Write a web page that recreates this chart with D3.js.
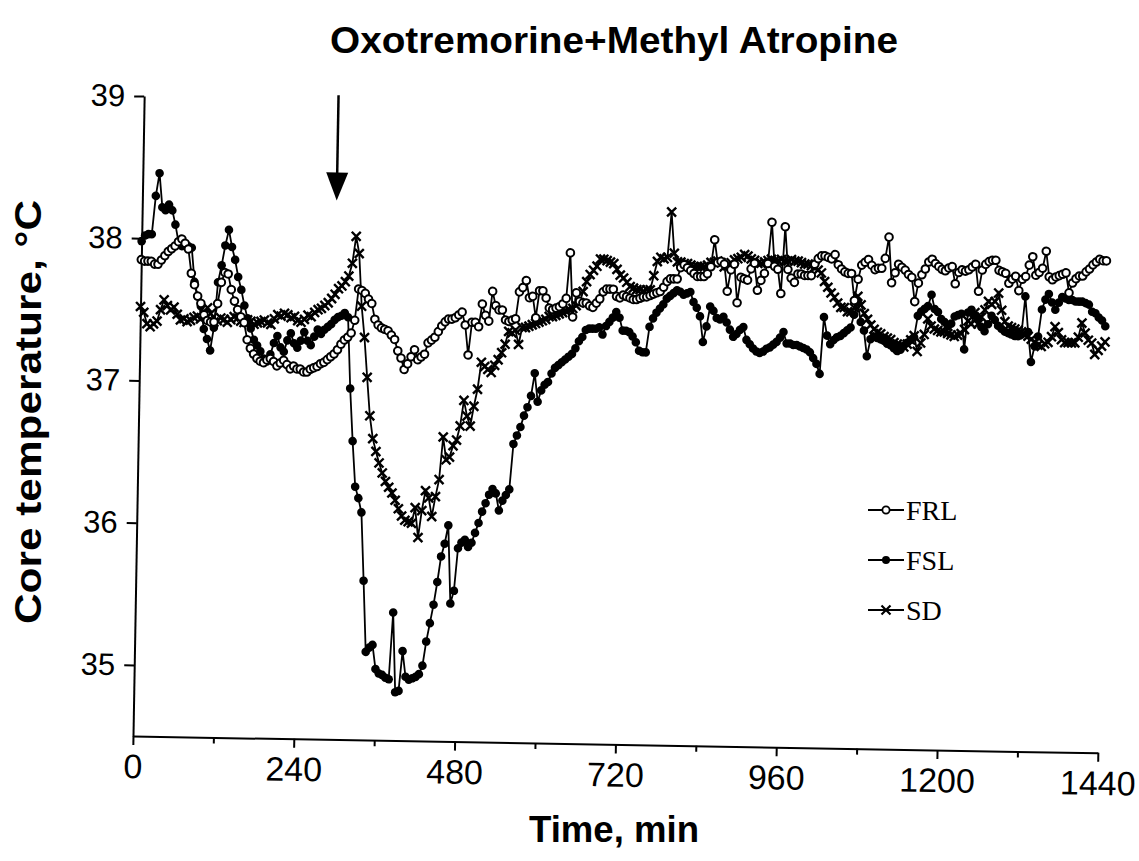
<!DOCTYPE html>
<html>
<head>
<meta charset="utf-8">
<script src="https://cdn.jsdelivr.net/npm/d3@7/dist/d3.min.js"></script>
<style>
  body { margin: 0; background: #fff; }
  .axis text { font-family: "Liberation Sans", Arial, sans-serif; fill: #000; }
  .axis--x text { font-size: 34px; }
  .axis--y text { font-size: 31px; }
  .axis path, .axis line { stroke: #000; stroke-width: 2; }
  .series { fill: none; stroke: #000; stroke-width: 1.8; }
  .title { font-family: "Liberation Sans", Arial, sans-serif; font-weight: bold; }
  .legend text { font-family: "Liberation Serif", "Times New Roman", serif; font-size: 28px; }
</style>
</head>
<body>
<svg id="chart" width="1139" height="861"></svg>
<script>
// readings every 5 min from 0 to 1440 min, one row per hour
var stepMin = 5;

var frl = [
  37.85, 37.84, 37.84, 37.84, 37.82, 37.82, 37.85, 37.88, 37.91, 37.93, 37.95, 37.98,
  38.00, 37.97, 37.93, 37.76, 37.68, 37.60, 37.55, 37.47, 37.43, 37.42, 37.42, 37.55,
  37.70, 37.77, 37.76, 37.65, 37.57, 37.51, 37.46, 37.42, 37.30, 37.24, 37.20, 37.17,
  37.15, 37.14, 37.16, 37.17, 37.15, 37.12, 37.14, 37.16, 37.13, 37.10, 37.12, 37.10,
  37.10, 37.08, 37.08, 37.10, 37.11, 37.12, 37.14, 37.15, 37.17, 37.19, 37.21, 37.24,
  37.28, 37.31, 37.33, 37.36, 37.45, 37.67, 37.66, 37.64, 37.60, 37.57, 37.46, 37.42,
  37.40, 37.39, 37.38, 37.35, 37.32, 37.24, 37.19, 37.11, 37.15, 37.20, 37.25, 37.18,
  37.20, 37.22, 37.30, 37.32, 37.34, 37.38, 37.42, 37.45, 37.47, 37.47, 37.48, 37.50,
  37.52, 37.43, 37.22, 37.45, 37.45, 37.42, 37.58, 37.50, 37.46, 37.67, 37.57, 37.54,
  37.54, 37.47, 37.46, 37.47, 37.48, 37.67, 37.70, 37.75, 37.63, 37.64, 37.49, 37.68,
  37.68, 37.63, 37.56, 37.55, 37.56, 37.57, 37.59, 37.63, 37.95, 37.50, 37.67, 37.61,
  37.60, 37.60, 37.58, 37.57, 37.60, 37.63, 37.68, 37.70, 37.70, 37.70, 37.65, 37.64,
  37.66, 37.65, 37.64, 37.63, 37.63, 37.64, 37.65, 37.65, 37.66, 37.67, 37.68, 37.69,
  37.72, 37.76, 37.78, 37.78, 37.78, 37.86, 37.88, 37.86, 37.84, 37.82, 37.80, 37.80,
  37.80, 37.82, 37.87, 38.06, 37.90, 37.91, 37.89, 37.70, 37.85, 37.89, 37.62, 37.80,
  37.79, 37.78, 37.86, 37.90, 37.71, 37.78, 37.83, 37.90, 38.19, 37.88, 37.86, 37.69,
  38.16, 37.86, 37.80, 37.77, 37.83, 37.83, 37.82, 37.82, 37.82, 37.90, 37.94, 37.96,
  37.96, 37.95, 37.94, 37.97, 37.90, 37.87, 37.85, 37.84, 37.84, 37.65, 37.80, 37.90,
  37.92, 37.94, 37.90, 37.87, 37.88, 37.88, 37.95, 38.10, 37.78, 37.85, 37.91, 37.89,
  37.87, 37.84, 37.82, 37.65, 37.78, 37.84, 37.88, 37.93, 37.95, 37.92, 37.90, 37.88,
  37.87, 37.89, 37.90, 37.78, 37.86, 37.88, 37.87, 37.88, 37.90, 37.92, 37.73, 37.88,
  37.92, 37.94, 37.95, 37.95, 37.88, 37.87, 37.86, 37.79, 37.82, 37.84, 37.74, 37.82,
  37.84, 37.92, 37.98, 37.85, 37.87, 37.90, 38.02, 37.84, 37.82, 37.84, 37.85, 37.86,
  37.87, 37.73, 37.80, 37.83, 37.85, 37.85, 37.88, 37.90, 37.93, 37.95, 37.97, 37.96,
  37.96
];

var fsl = [
  37.98, 38.02, 38.03, 38.03, 38.30, 38.46, 38.22, 38.20, 38.24, 38.20, 38.10, 37.98,
  37.95, 37.96, 37.95, 37.94, 37.70, 37.60, 37.53, 37.37, 37.30, 37.22, 37.38, 37.70,
  37.82, 37.96, 38.07, 37.95, 37.86, 37.74, 37.65, 37.54, 37.45, 37.38, 37.30, 37.26,
  37.22, 37.17, 37.15, 37.20, 37.28, 37.33, 37.25, 37.22, 37.30, 37.35, 37.28, 37.25,
  37.30, 37.36, 37.30, 37.27, 37.33, 37.38, 37.35, 37.38, 37.40, 37.42, 37.45, 37.47,
  37.48, 37.50, 37.47, 36.97, 36.60, 36.28, 36.20, 36.10, 35.62, 35.12, 35.15, 35.17,
  35.00, 34.97, 34.96, 34.94, 34.93, 35.40, 34.84, 34.85, 35.13, 34.95, 34.93, 34.94,
  34.95, 34.97, 35.03, 35.20, 35.33, 35.46, 35.62, 35.80, 35.89, 36.02, 35.47, 35.56,
  35.86, 35.90, 35.92, 35.87, 35.90, 35.97, 36.04, 36.12, 36.18, 36.24, 36.28, 36.25,
  36.13, 36.20, 36.24, 36.28, 36.60, 36.66, 36.72, 36.80, 36.86, 36.94, 37.10, 36.90,
  36.98, 37.02, 37.04, 37.10, 37.14, 37.16, 37.18, 37.20, 37.22, 37.24, 37.28, 37.33,
  37.36, 37.41, 37.42, 37.42, 37.42, 37.43, 37.38, 37.44, 37.47, 37.50, 37.54, 37.50,
  37.41, 37.41, 37.40, 37.37, 37.33, 37.27, 37.26, 37.26, 37.44, 37.50, 37.54, 37.57,
  37.60, 37.64, 37.66, 37.68, 37.70, 37.69, 37.67, 37.68, 37.69, 37.62, 37.58, 37.52,
  37.34, 37.45, 37.59, 37.56, 37.51, 37.50, 37.52, 37.48, 37.43, 37.38, 37.40, 37.43,
  37.45, 37.36, 37.33, 37.30, 37.28, 37.27, 37.28, 37.30, 37.31, 37.33, 37.35, 37.38,
  37.42, 37.34, 37.34, 37.33, 37.33, 37.32, 37.31, 37.30, 37.28, 37.24, 37.20, 37.13,
  37.53, 37.40, 37.34, 37.37, 37.39, 37.40, 37.42, 37.44, 37.46, 37.55, 37.64, 37.50,
  37.44, 37.26, 37.38, 37.40, 37.39, 37.38, 37.37, 37.35, 37.34, 37.32, 37.30, 37.31,
  37.34, 37.36, 37.38, 37.40, 37.55, 37.58, 37.60, 37.62, 37.70, 37.60, 37.58, 37.53,
  37.51, 37.48, 37.50, 37.55, 37.56, 37.57, 37.32, 37.58, 37.60, 37.56, 37.53, 37.48,
  37.45, 37.50, 37.56, 37.53, 37.49, 37.47, 37.45, 37.44, 37.43, 37.42, 37.42, 37.43,
  37.70, 37.45, 37.24, 37.35, 37.42, 37.61, 37.68, 37.72, 37.66, 37.61, 37.66, 37.70,
  37.69, 37.68, 37.68, 37.67, 37.67, 37.67, 37.66, 37.65, 37.60, 37.59, 37.56, 37.54,
  37.50
];

var sd = [
  37.52, 37.48, 37.40, 37.38, 37.40, 37.42, 37.50, 37.57, 37.53, 37.50, 37.52, 37.47,
  37.43, 37.44, 37.42, 37.43, 37.45, 37.46, 37.44, 37.47, 37.52, 37.48, 37.42, 37.43,
  37.45, 37.44, 37.42, 37.44, 37.46, 37.45, 37.43, 37.42, 37.44, 37.43, 37.41, 37.42,
  37.43, 37.44, 37.42, 37.41, 37.45, 37.48, 37.47, 37.49, 37.48, 37.46, 37.47, 37.44,
  37.43, 37.45, 37.48, 37.47, 37.50, 37.52, 37.53, 37.55, 37.57, 37.60, 37.63, 37.67,
  37.69, 37.72, 37.76, 37.85, 38.04, 37.92, 37.55, 37.33, 37.05, 36.78, 36.62, 36.53,
  36.45, 36.38, 36.32, 36.28, 36.24, 36.19, 36.13, 36.08, 36.05, 36.04, 36.03, 36.14,
  35.93, 36.12, 36.26, 36.21, 36.08, 36.22, 36.34, 36.64, 36.48, 36.50, 36.58, 36.62,
  36.72, 36.90, 36.79, 36.72, 36.86, 36.98, 37.17, 37.14, 37.12, 37.10, 37.15, 37.19,
  37.24, 37.30, 37.39, 37.38, 37.40, 37.30, 37.42, 37.42, 37.43, 37.44, 37.45, 37.46,
  37.47, 37.48, 37.50, 37.50, 37.51, 37.52, 37.53, 37.54, 37.55, 37.56, 37.58, 37.60,
  37.68, 37.75, 37.80, 37.83, 37.86, 37.91, 37.91, 37.90, 37.89, 37.88, 37.84, 37.80,
  37.78, 37.75, 37.72, 37.71, 37.70, 37.70, 37.69, 37.70, 37.70, 37.80, 37.90, 37.93,
  37.92, 37.93, 38.25, 37.96, 37.90, 37.90, 37.89, 37.89, 37.88, 37.87, 37.87, 37.87,
  37.87, 37.88, 37.90, 37.90, 37.91, 37.90, 37.87, 37.88, 37.90, 37.92, 37.93, 37.94,
  37.96, 37.95, 37.93, 37.92, 37.90, 37.90, 37.91, 37.92, 37.93, 37.92, 37.92, 37.93,
  37.92, 37.92, 37.93, 37.92, 37.92, 37.91, 37.90, 37.90, 37.89, 37.88, 37.86, 37.84,
  37.78, 37.74, 37.70, 37.67, 37.63, 37.60, 37.60, 37.57, 37.57, 37.60, 37.68, 37.62,
  37.56, 37.52, 37.48, 37.45, 37.43, 37.42, 37.40, 37.39, 37.38, 37.36, 37.35, 37.34,
  37.33, 37.35, 37.38, 37.41, 37.30, 37.36, 37.42, 37.53, 37.48, 37.46, 37.45, 37.44,
  37.44, 37.43, 37.42, 37.41, 37.42, 37.43, 37.46, 37.52, 37.50, 37.58, 37.50, 37.55,
  37.60, 37.66, 37.64, 37.66, 37.72, 37.60, 37.52, 37.49, 37.48, 37.47, 37.46, 37.45,
  37.43, 37.42, 37.40, 37.38, 37.36, 37.35, 37.37, 37.38, 37.42, 37.49, 37.45, 37.40,
  37.38, 37.38, 37.38, 37.38, 37.42, 37.52, 37.45, 37.40, 37.38, 37.30, 37.33, 37.36,
  37.39
];

var xTicks = [0, 240, 480, 720, 960, 1200, 1440];
var xMinorTicks = [120, 360, 600, 840, 1080, 1320];
var yTicks = [35, 36, 37, 38, 39];
var seriesNames = ["FRL", "FSL", "SD"];

// the drug was given at about 290 min (arrow)
var arrowTime = 290, arrowTop = 39.03, arrowTip = 38.29;

var svg = d3.select("#chart");
var width = 965, height = 640;

// the scanned figure is turned about 1 degree clockwise, so the plot is too
var g = svg.append("g")
  .attr("transform", "translate(133,736) rotate(1)");

var x = d3.scaleLinear().domain([0, 1440]).range([0, width]);
var y = d3.scaleLinear().domain([34.5, 39]).range([0, -height]);

g.append("g")
  .attr("class", "axis axis--x")
  .call(d3.axisBottom(x).tickValues(xTicks).tickSize(9).tickSizeOuter(0)
    .tickPadding(9).tickFormat(d3.format("d")));

g.append("g")
  .attr("class", "axis axis--x")
  .call(d3.axisBottom(x).tickValues(xMinorTicks).tickSize(6).tickSizeOuter(0).tickFormat(""))
  .select(".domain").remove();

g.append("g")
  .attr("class", "axis axis--y")
  .call(d3.axisLeft(y).tickValues(yTicks).tickSize(10).tickSizeOuter(0)
    .tickPadding(9).tickFormat(d3.format("d")));

function tOf(i) { return i * stepMin; }

var line = d3.line()
  .x(function(d, i) { return x(tOf(i)); })
  .y(function(d) { return y(d); });

var crossPath = "M-4.5,-4.5L4.5,4.5M-4.5,4.5L4.5,-4.5";

// SD first, then FSL, FRL on top
g.append("path").datum(sd).attr("class", "series").attr("d", line);
g.selectAll(".sd").data(sd).enter().append("path")
  .attr("class", "sd")
  .attr("transform", function(d, i) { return "translate(" + x(tOf(i)) + "," + y(d) + ")"; })
  .attr("d", crossPath)
  .attr("stroke", "#000").attr("stroke-width", 2.4);

g.append("path").datum(fsl).attr("class", "series").attr("d", line);
g.selectAll(".fsl").data(fsl).enter().append("circle")
  .attr("class", "fsl")
  .attr("cx", function(d, i) { return x(tOf(i)); })
  .attr("cy", function(d) { return y(d); })
  .attr("r", 4.3)
  .attr("fill", "#000");

g.append("path").datum(frl).attr("class", "series").attr("d", line);
g.selectAll(".frl").data(frl).enter().append("circle")
  .attr("class", "frl")
  .attr("cx", function(d, i) { return x(tOf(i)); })
  .attr("cy", function(d) { return y(d); })
  .attr("r", 3.8)
  .attr("fill", "#fff")
  .attr("stroke", "#000")
  .attr("stroke-width", 2);

// injection arrow
var ax = x(arrowTime);
g.append("line")
  .attr("x1", ax).attr("x2", ax)
  .attr("y1", y(arrowTop)).attr("y2", y(arrowTip) - 24)
  .attr("stroke", "#000").attr("stroke-width", 2.5);
g.append("path")
  .attr("d", "M" + (ax - 11) + "," + (y(arrowTip) - 28) + "L" + (ax + 11) + "," + (y(arrowTip) - 28) +
             "L" + ax + "," + y(arrowTip) + "Z")
  .attr("fill", "#000");

// titles
svg.append("text")
  .attr("class", "title")
  .attr("x", 614).attr("y", 53)
  .attr("text-anchor", "middle")
  .attr("textLength", 568).attr("lengthAdjust", "spacingAndGlyphs")
  .style("font-size", "37px")
  .text("Oxotremorine+Methyl Atropine");

svg.append("text")
  .attr("class", "title")
  .attr("transform", "translate(41,412) rotate(-90)")
  .attr("text-anchor", "middle")
  .attr("textLength", 424).attr("lengthAdjust", "spacingAndGlyphs")
  .style("font-size", "36px")
  .text("Core temperature, °C");

svg.append("text")
  .attr("class", "title")
  .attr("x", 614).attr("y", 842)
  .attr("text-anchor", "middle")
  .attr("textLength", 170).attr("lengthAdjust", "spacingAndGlyphs")
  .style("font-size", "36px")
  .text("Time, min");

// legend
var legend = svg.append("g").attr("class", "legend").attr("transform", "translate(868,510)");
seriesNames.forEach(function(name, i) {
  var row = legend.append("g").attr("transform", "translate(0," + (i * 50) + ")");
  row.append("line").attr("x1", 0).attr("x2", 36).attr("y1", 0).attr("y2", 0)
    .attr("stroke", "#000").attr("stroke-width", 2);
  if (name === "FRL") {
    row.append("circle").attr("cx", 18).attr("r", 3.6).attr("fill", "#fff")
      .attr("stroke", "#000").attr("stroke-width", 1.8);
  } else if (name === "FSL") {
    row.append("circle").attr("cx", 18).attr("r", 4).attr("fill", "#000");
  } else {
    row.append("path").attr("d", crossPath).attr("transform", "translate(18,0)")
      .attr("stroke", "#000").attr("stroke-width", 2.2);
  }
  row.append("text").attr("x", 38).attr("dy", "0.35em").text(name);
});
</script>
</body>
</html>
